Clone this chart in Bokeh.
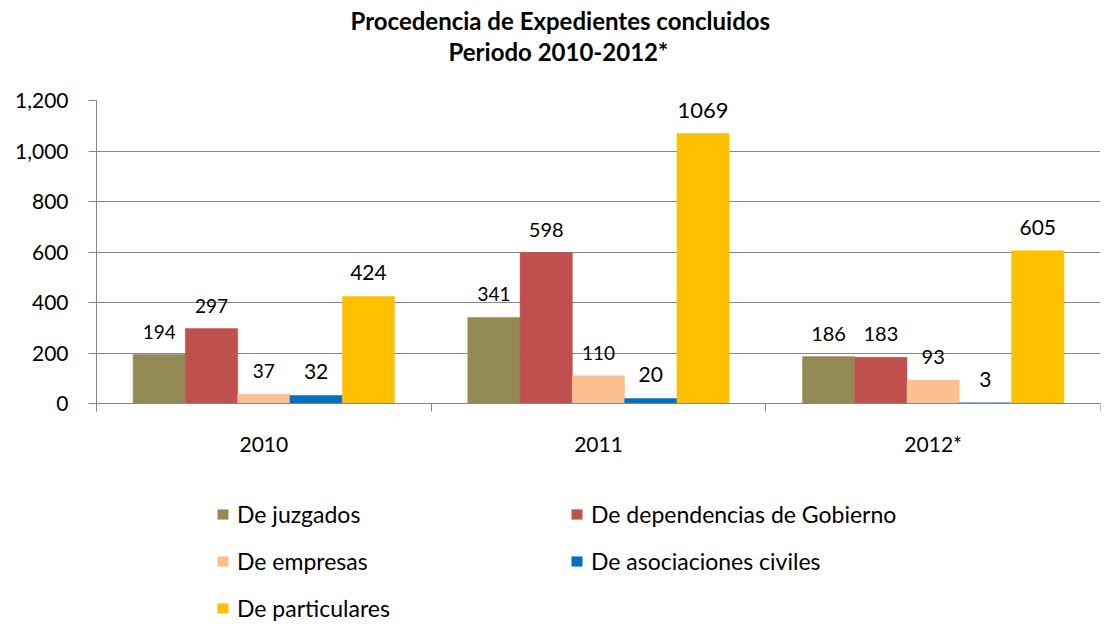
import numpy as np
from bokeh.plotting import figure
from bokeh.models import (ColumnDataSource, FixedTicker, Legend, LegendItem, Title,
                          NumeralTickFormatter, Range1d, LabelSet, LinearAxis)
from bokeh.core.properties import value
from bokeh.transform import dodge
from bokeh.embed import file_html
from bokeh.resources import INLINE

years = ["2010", "2011", "2012*"]
series = ["De juzgados", "De dependencias de Gobierno", "De empresas",
          "De asociaciones civiles", "De particulares"]
juzgados = [194, 341, 186]
dependencias = [297, 598, 183]
empresas = [37, 110, 93]
asociaciones = [32, 20, 3]
particulares = [424, 1069, 605]
colors = ["#948A54", "#C0504D", "#FAC090", "#0070C0", "#FFC000"]
label_sizes = [["19px", "19px", "20px"], ["19px", "20px", "20px"], ["19px", "19px", "20px"],
               ["21px", "21px", "21px"], ["21px", "22px", "21px"]]
title_lines = ["Procedencia de Expedientes concluidos", "Periodo 2010-2012*"]

values = [juzgados, dependencias, empresas, asociaciones, particulares]
FONT = "Lato"

xc = np.arange(len(years)) + 0.5
bar_w = 1.0 / 6.4

p = figure(width=1104, height=622, output_backend="svg", toolbar_location=None,
           x_range=Range1d(0, 3), y_range=Range1d(-867, 1200),
           x_axis_location=None,
           min_border_left=96, min_border_right=4, min_border_top=100, min_border_bottom=0)
p.title = None
p.outline_line_color = None
p.background_fill_color = "white"

items = []
for i, (name, vals, col) in enumerate(zip(series, values, colors)):
    src = ColumnDataSource(dict(x=xc, top=vals, lab=[str(v) for v in vals], size=label_sizes[i]))
    off = (i - 2) * bar_w
    r = p.vbar(x=dodge("x", off, range=p.x_range), top="top", width=bar_w, source=src,
               fill_color=col, line_color=col, line_width=0.5)
    items.append(LegendItem(label=name, renderers=[r]))
    ls = LabelSet(x=dodge("x", off, range=p.x_range), y="top", text="lab", source=src,
                  text_align="center", text_baseline="alphabetic", y_offset=16,
                  text_font=value(FONT), text_font_size="size", text_color="#000000")
    p.add_layout(ls)

# y axis
p.yaxis.ticker = FixedTicker(ticks=[0, 200, 400, 600, 800, 1000, 1200])
p.yaxis.formatter = NumeralTickFormatter(format="0,0")
p.yaxis.bounds = (-32, 1200)
p.yaxis.major_label_text_font = FONT
p.yaxis.major_label_text_font_size = "21px"
p.yaxis.major_label_text_color = "#000000"
p.yaxis.axis_line_color = "#868686"
p.yaxis.major_tick_line_color = "#868686"
p.yaxis.major_tick_out = 8
p.yaxis.major_tick_in = 0
p.yaxis.minor_tick_line_color = None
p.yaxis.major_label_standoff = 20

# x axis, drawn at y = 0
xaxis = LinearAxis(fixed_location=0,
                   ticker=FixedTicker(ticks=list(xc), minor_ticks=[0, 1, 2, 3]),
                   major_label_overrides={float(x): y for x, y in zip(xc, years)},
                   major_label_text_font=FONT, major_label_text_font_size="21px",
                   major_label_text_color="#000000", axis_line_color="#868686",
                   major_tick_line_color=None, major_tick_out=0,
                   minor_tick_line_color="#868686", minor_tick_out=8, minor_tick_in=0,
                   major_label_standoff=19)
p.add_layout(xaxis, "below")

p.xgrid.grid_line_color = None
p.ygrid.grid_line_color = "#868686"
p.ygrid.grid_line_width = 1

# legend filled column by column: order items so rows read left to right
order = [0, 2, 4, 1, 3]
legend = Legend(items=[items[k] for k in order], ncols=2, location=(120, 0),
                orientation="vertical",
                label_text_font=FONT, label_text_font_size="23px", label_text_color="#000000",
                glyph_width=13, glyph_height=12, label_standoff=8, spacing=19,
                label_height=24, label_width=314, border_line_color=None,
                padding=0, margin=0, background_fill_alpha=0)
p.add_layout(legend)

# blank spacer panel between the frame and the two-line title
p.add_layout(Title(text=" ", text_font=FONT, text_font_size="24px", standoff=4), "above")
p.add_layout(Title(text=title_lines[1], align="left", offset=352, text_font=FONT,
                   text_font_size="24px", text_font_style="bold", text_color="#000000",
                   standoff=0), "above")
p.add_layout(Title(text=title_lines[0], align="left", offset=254, text_font=FONT,
                   text_font_size="24px", text_font_style="bold", text_color="#000000",
                   standoff=0), "above")

open("out.html", "w").write(file_html(p, INLINE))
